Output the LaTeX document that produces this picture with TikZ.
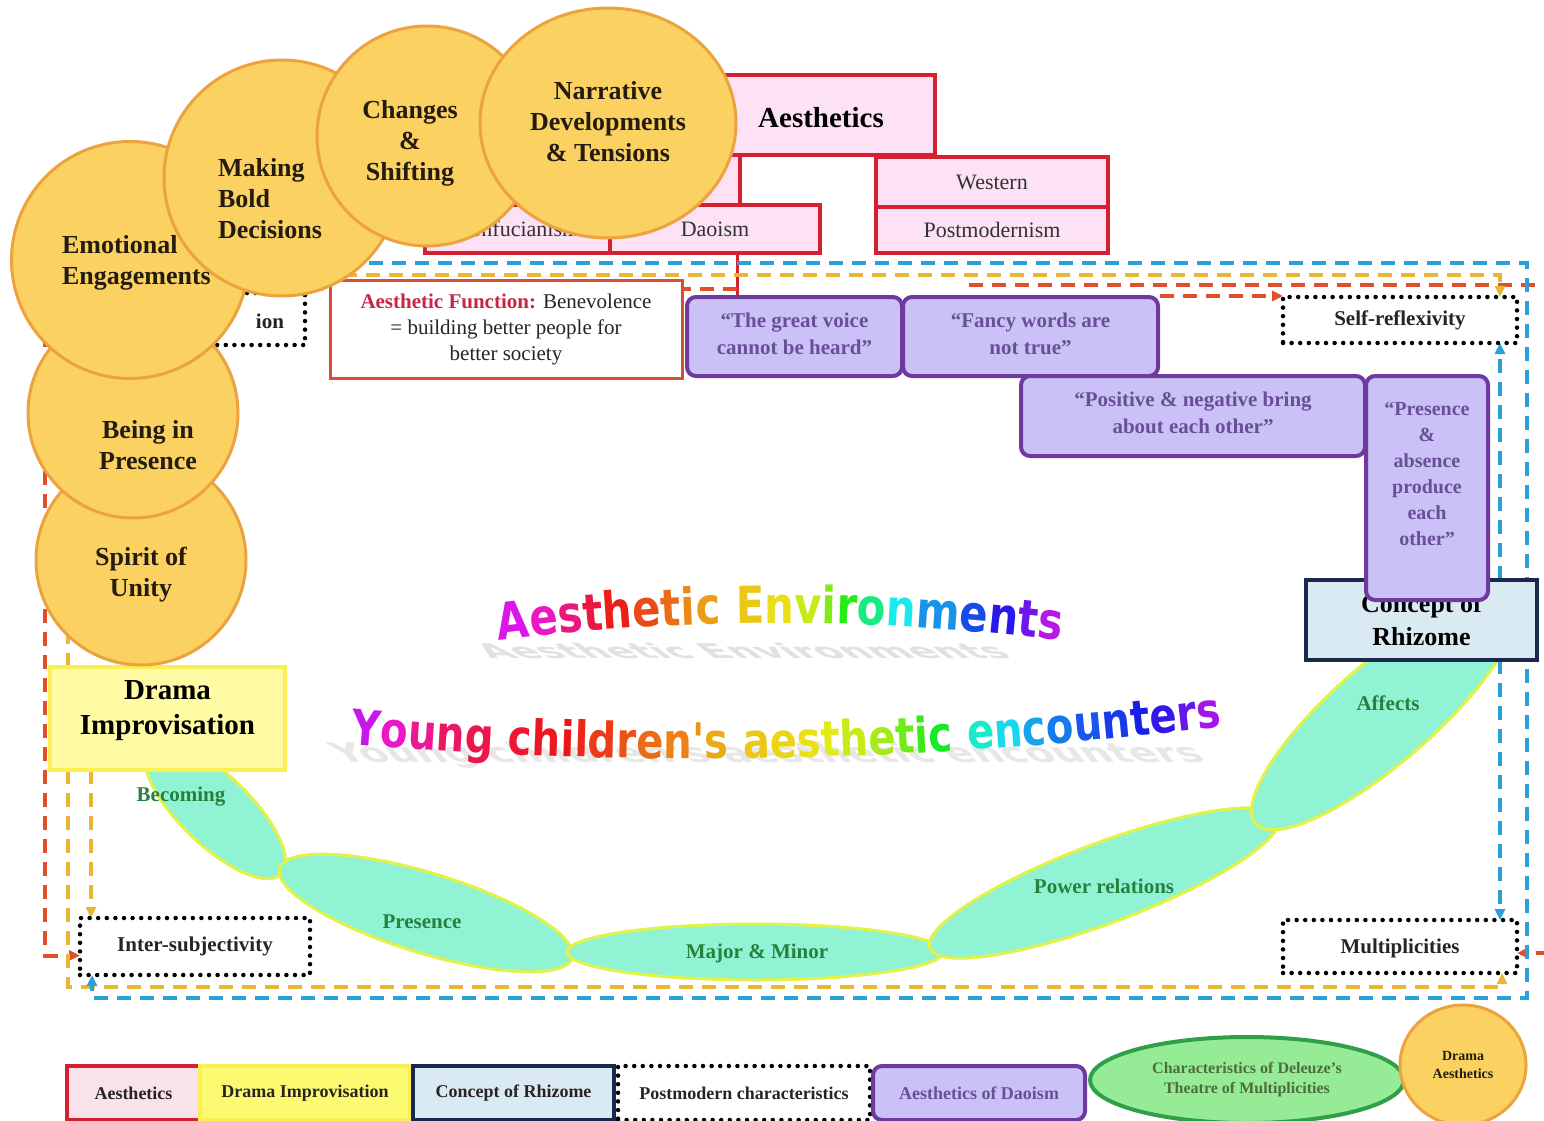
\documentclass[tikz,border=0pt]{standalone}
\usepackage{fontspec}
\setmainfont{Liberation Serif}
\newfontfamily\artfont[FakeStretch=0.82]{DejaVu Sans}
\usetikzlibrary{arrows.meta,shapes.geometric,decorations.text}

\definecolor{aesRed}{RGB}{212,32,48}
\definecolor{aesPink}{RGB}{252,226,244}
\definecolor{funcRed}{RGB}{196,40,70}
\definecolor{funcLine}{RGB}{214,78,58}
\definecolor{txtDark}{RGB}{40,36,34}
\definecolor{txtGray}{RGB}{50,50,50}
\definecolor{goldFill}{RGB}{251,210,98}
\definecolor{goldDraw}{RGB}{236,162,62}
\definecolor{circText}{RGB}{36,28,16}
\definecolor{purFill}{RGB}{202,194,247}
\definecolor{purDraw}{RGB}{110,58,158}
\definecolor{purText}{RGB}{104,80,150}
\definecolor{rhFill}{RGB}{218,234,242}
\definecolor{rhDraw}{RGB}{26,40,78}
\definecolor{drFill}{RGB}{255,250,164}
\definecolor{drDraw}{RGB}{250,240,84}
\definecolor{legYel}{RGB}{252,250,112}
\definecolor{legPink}{RGB}{249,226,234}
\definecolor{leafFill}{RGB}{144,244,212}
\definecolor{leafDraw}{RGB}{226,242,72}
\definecolor{leafText}{RGB}{40,128,62}
\definecolor{dRed}{RGB}{226,78,42}
\definecolor{dYel}{RGB}{234,182,52}
\definecolor{dBlue}{RGB}{42,160,214}
\definecolor{delFill}{RGB}{150,236,150}
\definecolor{delDraw}{RGB}{48,160,72}
\definecolor{delText}{RGB}{78,108,60}
\definecolor{ghost}{RGB}{150,150,150}

\newcommand\setfs[2]{\fontsize{#1}{#2}\selectfont}

% Builds a decorations.text string giving every character its own hue
\ExplSyntaxOn
\tl_new:N \l__rb_tl
\int_new:N \l__rb_int
\cs_new_protected:Npn \BuildRainbow #1#2#3
  {
    \tl_clear:N \l__rb_tl
    \int_zero:N \l__rb_int
    \str_map_inline:nn {#2}
      {
        \int_incr:N \l__rb_int
        \str_if_eq:nnTF {##1} {~}
          { \tl_put_right:Nn \l__rb_tl { { \kern 0.3em } } }
          {
            \tl_put_right:Nx \l__rb_tl
              {
                | \exp_not:N \color [Hsb] { \clist_item:nn {#3} { \l__rb_int } , 0.9 , 0.92 } |
                \exp_not:n {##1}
              }
          }
      }
    \tl_set_eq:NN #1 \l__rb_tl
  }
\ExplSyntaxOff

\BuildRainbow\RainbowEnv{Aesthetic Environments}{295,312,330,348,2,14,24,32,38,44,50,56,70,90,115,150,180,205,225,245,265,285}
\BuildRainbow\RainbowYoung{Young children's aesthetic encounters}{290,310,325,338,345,350,352,356,0,5,10,17,24,30,35,42,46,50,54,57,62,70,80,95,110,125,150,170,185,200,212,222,230,238,248,262,280}

\pgfdeclarelayer{bg}
\pgfdeclarelayer{back}
\pgfsetlayers{bg,back,main}

\tikzset{
  every node/.style={inner sep=0pt, outer sep=0pt},
  aesbox/.style={draw=aesRed, fill=aesPink, line width=4pt, text=txtGray, font=\setfs{22}{26}},
  goldc/.style={circle, draw=goldDraw, fill=goldFill, line width=3pt},
  circtxt/.style={text=circText, font=\bfseries\setfs{26}{31}, align=center},
  purbox/.style={draw=purDraw, fill=purFill, line width=4pt, rounded corners=9pt},
  purtxt/.style={text=purText, font=\bfseries\setfs{21}{27}, align=center},
  dotbox/.style={draw=black, fill=white, line width=4.5pt, dash pattern=on 0pt off 8.6pt, line cap=round},
  dottxt/.style={text=txtDark, font=\bfseries\setfs{21}{25}},
  leafshape/.style={ellipse, draw=leafDraw, fill=leafFill, line width=3pt},
  leaftxt/.style={text=leafText, font=\bfseries\setfs{21}{25}},
  reddash/.style={draw=dRed, line width=4pt, dash pattern=on 14pt off 9pt},
  yeldash/.style={draw=dYel, line width=4pt, dash pattern=on 14pt off 9pt},
  bluedash/.style={draw=dBlue, line width=4pt, dash pattern=on 14pt off 9pt},
  arrowend/.style={-{Triangle[length=11pt,width=10pt]}},
  aesLink/.style={draw=aesRed, line width=3pt},
  legbox/.style={line width=4pt, minimum height=54, text=txtDark, font=\bfseries\setfs{18}{22}},
  shadowtxt/.style={transform shape, anchor=base, text=ghost, opacity=0.28}
}

\begin{document}
\begin{tikzpicture}[x=1pt,y=1pt]
\useasboundingbox (0,0) rectangle (1544,-1121);
\begin{pgfonlayer}{bg}
  \fill[white] (0,0) rectangle (1544,-1121);
\end{pgfonlayer}

% ---------- title word art with flattened cast shadows ----------
\begin{scope}[shift={(752,-658)}, xscale=0.93, xslant=-1.4, yscale=0.4]
  \node[shadowtxt, font=\artfont\bfseries\setfs{51}{51}] (envShadow) at (0,0) {Aesthetic Environments};
\end{scope}
\begin{scope}[shift={(774,-762)}, xslant=-0.8, yscale=0.55]
  \node[shadowtxt, opacity=0.22, font=\artfont\bfseries\setfs{49}{49}] (youngShadow) at (0,0) {Young children's aesthetic encounters};
\end{scope}
\begin{scope}
  \artfont\bfseries\setfs{51}{51}
  \begin{scope}[shift={(780,-640)}]
    \path[decorate, decoration={text along path, text/.expand once=\RainbowEnv, text align=center}]
      (-306,-4) .. controls (-100,24) and (100,24) .. (306,-4);
  \end{scope}
\end{scope}
\begin{scope}
  \artfont\bfseries\setfs{49}{49}
  \begin{scope}[shift={(786,-750)}]
    \path[decorate, decoration={text along path, text/.expand once=\RainbowYoung, text align=center}]
      (-458,8) .. controls (-150,-20) and (150,-12) .. (458,26);
  \end{scope}
\end{scope}

% ---------- chain of leaves ----------
\node[leafshape, minimum width=184, minimum height=70, rotate=-44] (becoming) at (215,-810) {};
\node[leafshape, minimum width=306, minimum height=80, rotate=-17] (presence) at (426,-913) {};
\node[leafshape, minimum width=376, minimum height=56] (major) at (755,-952) {};
\node[leafshape, minimum width=372, minimum height=80, rotate=20.5] (power) at (1104,-883) {};
\node[leafshape, minimum width=340, minimum height=100, rotate=41] (affects) at (1384,-712) {};
\node[leaftxt] (becomingT) at (181,-797) {Becoming};
\node[leaftxt] (presenceT) at (422,-922) {Presence};
\node[leaftxt] (majorT) at (757,-953) {Major \& Minor};
\node[leaftxt] (powerT) at (1104,-886) {Power relations};
\node[leaftxt] (affectsT) at (1388,-703) {Affects};

% ---------- aesthetics tree ----------
\node[aesbox, minimum width=255, minimum height=80] (aesTop) at (807.5,-115) {};
\node[text=black, font=\bfseries\setfs{29}{34}] (aesTopT) at (821,-118) {Aesthetics};
\node[aesbox, minimum width=315, minimum height=50] (chinese) at (582.5,-180) {};
\node[aesbox, minimum width=185, minimum height=48] (confu) at (517.5,-229) {Confucianism};
\node[aesbox, minimum width=210, minimum height=48] (daoism) at (715,-229) {Daoism};
\node[aesbox, minimum width=232, minimum height=50] (western) at (992,-182) {Western};
\node[aesbox, minimum width=232, minimum height=46] (postmod) at (992,-230) {Postmodernism};

\node[draw=funcLine, fill=white, line width=3pt, minimum width=352, minimum height=98,
      align=center, text=txtDark, font=\setfs{21}{26}] (afunc) at (506,-329)
  {\textcolor{funcRed}{\bfseries Aesthetic Function:} Benevolence\\= building better people for\\better society};

\node[dotbox, minimum width=105, minimum height=52] (ionBox) at (252.5,-319) {};
\node[dottxt] (ionT) at (270,-321) {ion};

% ---------- Daoist sayings ----------
\node[purbox, minimum width=215, minimum height=79] (voice) at (794.5,-336.5) {};
\node[purtxt] (voiceT) at (794.5,-334) {“The great voice\\cannot be heard”};
\node[purbox, minimum width=255, minimum height=79] (fancy) at (1030.5,-336.5) {};
\node[purtxt] (fancyT) at (1030.5,-334) {“Fancy words are\\not true”};
\node[purbox, minimum width=344, minimum height=80] (posneg) at (1193,-416) {};
\node[purtxt] (posnegT) at (1193,-413) {“Positive \& negative bring\\about each other”};

\node[draw=rhDraw, fill=rhFill, line width=4pt, minimum width=231, minimum height=80,
      align=center, text=black, font=\bfseries\setfs{26}{33}] (rhizome) at (1421.5,-620)
  {Concept of\\Rhizome};
\node[purbox, minimum width=122, minimum height=224] (presAbs) at (1427,-488) {};
\node[purtxt, font=\bfseries\setfs{20}{26}] (presAbsT) at (1427,-474)
  {“Presence\\\&\\absence\\produce\\each\\other”};

% ---------- postmodern characteristics ----------
\node[dotbox, minimum width=234, minimum height=46] (selfR) at (1400,-320) {};
\node[dottxt] (selfRT) at (1400,-320) {Self-reflexivity};
\node[dotbox, minimum width=230, minimum height=57] (interS) at (195,-946.5) {};
\node[dottxt] (interST) at (195,-946) {Inter-subjectivity};
\node[dotbox, minimum width=234, minimum height=53] (multi) at (1400,-946.5) {};
\node[dottxt] (multiT) at (1400,-948) {Multiplicities};

\node[draw=drDraw, fill=drFill, line width=4pt, minimum width=235, minimum height=103] (drama) at (167.5,-718.5) {};
\node[text=black, font=\bfseries\setfs{29}{35}, align=center] (dramaT) at (167.5,-711)
  {Drama\\Improvisation};

% ---------- drama aesthetics circles ----------
\node[goldc, minimum size=210] (spirit) at (141,-560) {};
\node[circtxt] (spiritT) at (141,-575) {Spirit of\\Unity};
\node[goldc, minimum size=210] (being) at (133,-413) {};
\node[circtxt] (beingT) at (148,-445) {Being in\\Presence};
\node[goldc, minimum size=237] (emo) at (130,-260) {};
\node[circtxt, align=left, anchor=west] (emoT) at (62,-263) {Emotional\\Engagements};
\node[goldc, minimum size=236] (bold) at (282,-178) {};
\node[circtxt, align=left, anchor=west] (boldT) at (218,-199) {Making\\Bold\\Decisions};
\node[goldc, minimum size=220] (change) at (427,-136) {};
\node[circtxt] (changeT) at (410,-143) {Changes\\\&\\Shifting};
\node[ellipse, draw=goldDraw, fill=goldFill, line width=3pt, minimum width=256, minimum height=230] (narr) at (608,-123) {};
\node[circtxt] (narrT) at (608,-122) {Narrative\\Developments\\\& Tensions};

% ---------- legend ----------
\node[legbox, draw=aesRed, fill=legPink, minimum width=133] (legA) at (133.5,-1093) {Aesthetics};
\node[legbox, draw=drDraw, fill=legYel, minimum width=210] (legD) at (305,-1093) {Drama Improvisation};
\node[legbox, draw=rhDraw, fill=rhFill, minimum width=201] (legR) at (513.5,-1093) {Concept of Rhizome};
\node[legbox, dotbox, minimum width=252] (legP) at (744,-1093) {};
\node[dottxt, font=\bfseries\setfs{18}{22}] (legPT) at (744,-1093) {Postmodern characteristics};
\node[legbox, purbox, minimum width=212, text=purText] (legDao) at (979,-1093) {Aesthetics of Daoism};
\node[ellipse, draw=delDraw, fill=delFill, line width=4pt, minimum width=314, minimum height=86,
      align=center, text=delText, font=\bfseries\setfs{16}{20}] (legDel) at (1247,-1080)
  {Characteristics of Deleuze’s\\Theatre of Multiplicities};
\node[ellipse, draw=goldDraw, fill=goldFill, line width=3pt, minimum width=126, minimum height=120,
      align=center, text=circText, font=\bfseries\setfs{14}{18}] (legDA) at (1463,-1065)
  {Drama\\Aesthetics};

% ---------- dashed routes ----------
\begin{pgfonlayer}{back}
  \coordinate (daoJ) at (737,-289);
  \draw[aesLink] (daoism.south -| daoJ) -- (voice.north -| daoJ);
  % red
  \coordinate (rTL) at (45,-289);
  \draw[reddash, arrowend] (daoJ) -- (rTL) |- ([yshift=-9pt]interS.west);
  \coordinate (rB) at (969,-285);
  \coordinate (rBE) at (1550,-285);
  \draw[reddash] (rB) -- (rBE);
  \coordinate (rC) at (1160,-296);
  \draw[reddash, arrowend] (rC) -- (rC -| selfR.west);
  \coordinate (rD) at (1550,-953);
  \draw[reddash, arrowend] (rD) -- (rD -| multi.east);
  % yellow
  \coordinate (yTL) at (68,-275);
  \coordinate (yTR) at (1500,-275);
  \draw[yeldash, arrowend] (drama.north -| yTL) -- (yTL) -- (yTR) -- (selfR.north -| yTR);
  \coordinate (yBL) at (68,-987);
  \coordinate (yBR) at (1502,-987);
  \draw[yeldash, arrowend] (drama.south -| yBL) -- (yBL) -- (yBR) -- (multi.south -| yBR);
  \coordinate (yIn) at (91,-800);
  \draw[yeldash, arrowend] (drama.south -| yIn) -- (interS.north -| yIn);
  % blue
  \coordinate (bTL) at (300,-263);
  \coordinate (bTR) at (1527,-263);
  \coordinate (bBR) at (1527,-998);
  \coordinate (bBL) at (92,-998);
  \draw[bluedash, arrowend] (bTL) -- (bTR) -- (bBR) -- (bBL) -- (interS.south -| bBL);
  \coordinate (bIn) at (1500,-600);
  \draw[bluedash, arrowend] (rhizome.north -| bIn) -- (selfR.south -| bIn);
  \draw[bluedash, arrowend] (rhizome.south -| bIn) -- (multi.north -| bIn);
\end{pgfonlayer}
\end{tikzpicture}
\end{document}
